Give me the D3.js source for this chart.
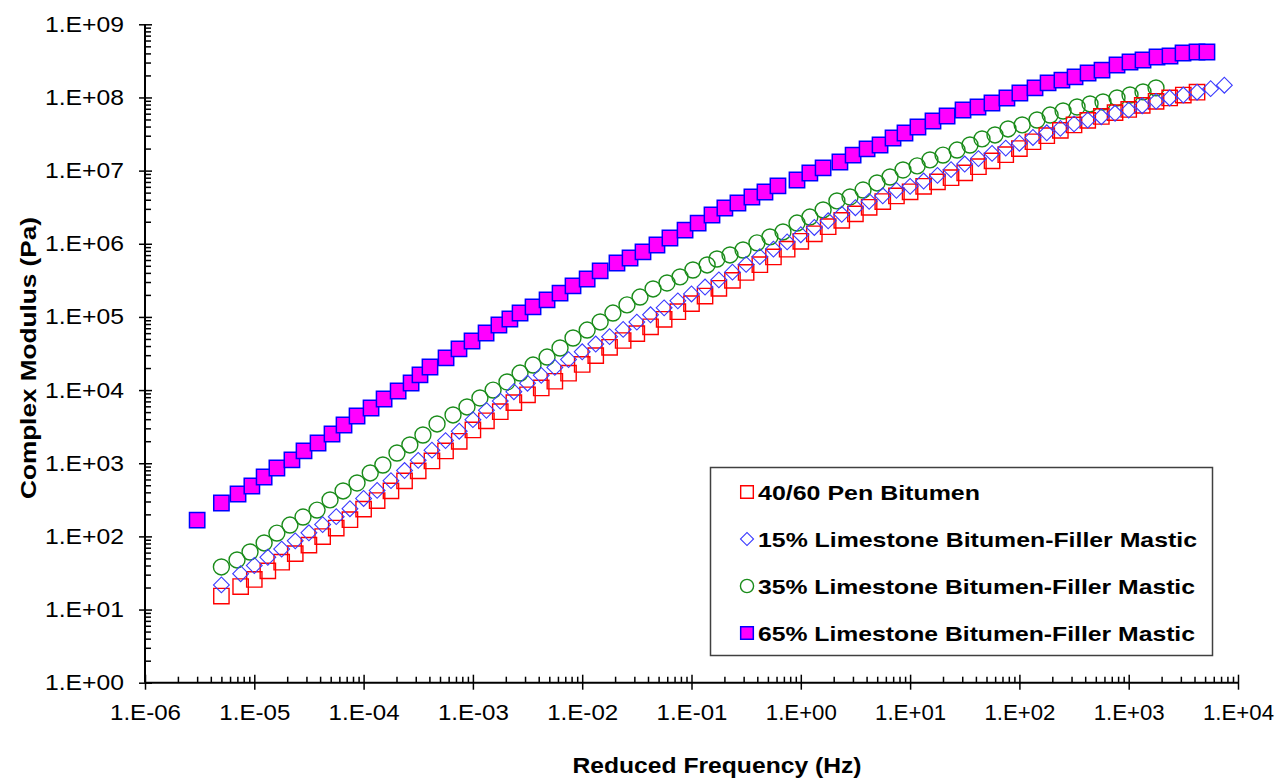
<!DOCTYPE html>
<html>
<head>
<meta charset="utf-8">
<script src="https://cdn.jsdelivr.net/npm/d3@7"></script>
<style>
  body { margin: 0; background: #fff; }
  svg text { font-family: "Liberation Sans", Arial, sans-serif; fill: #000; }
</style>
</head>
<body>
<div id="chart"></div>
<script>
// ---- data: reduced frequency (Hz) and complex modulus (Pa)
var penFreq = [5.0e-6, 7.50e-6, 1.00e-5, 1.33e-5, 1.78e-5, 2.37e-5, 3.16e-5, 4.22e-5, 5.62e-5, 7.50e-5,
  1.00e-4, 1.33e-4, 1.78e-4, 2.37e-4, 3.16e-4, 4.22e-4, 5.62e-4, 7.50e-4,
  1.00e-3, 1.33e-3, 1.78e-3, 2.37e-3, 3.16e-3, 4.22e-3, 5.62e-3, 7.50e-3,
  1.00e-2, 1.33e-2, 1.78e-2, 2.37e-2, 3.16e-2, 4.22e-2, 5.62e-2, 7.50e-2,
  0.100, 0.133, 0.178, 0.237, 0.316, 0.422, 0.562, 0.750,
  1.00, 1.33, 1.78, 2.37, 3.16, 4.22, 5.62, 7.50,
  10.0, 13.3, 17.8, 23.7, 31.6, 42.2, 56.2, 75.0,
  100, 133, 178, 237, 316, 422, 562, 750,
  1000, 1330, 1780, 2370, 3160, 4220];
var penModulus = [15.3, 20.6, 25.8, 33.8, 44.4, 58.1, 76.0, 99.5, 130, 169,
  236, 309, 419, 574, 786, 1075, 1473, 1992,
  2849, 3800, 5067, 6740, 8624, 1.07e4, 1.32e4, 1.70e4,
  2.24e4, 2.96e4, 3.84e4, 4.76e4, 5.91e4, 7.33e4, 9.28e4, 1.18e5,
  1.52e5, 1.93e5, 2.46e5, 3.16e5, 4.05e5, 5.18e5, 6.61e5, 8.43e5,
  1.08e6, 1.37e6, 1.71e6, 2.09e6, 2.56e6, 3.15e6, 3.78e6, 4.50e6,
  5.13e6, 6.11e6, 7.02e6, 8.01e6, 9.32e6, 1.13e7, 1.36e7, 1.65e7,
  2.00e7, 2.48e7, 3.00e7, 3.55e7, 4.21e7, 4.86e7, 5.50e7, 6.21e7,
  6.85e7, 7.80e7, 8.87e7, 9.84e7, 1.08e8, 1.18e8];

var ls15Freq = [5.0e-6, 7.50e-6, 1.00e-5, 1.33e-5, 1.78e-5, 2.37e-5, 3.16e-5, 4.22e-5, 5.62e-5, 7.50e-5,
  1.00e-4, 1.33e-4, 1.78e-4, 2.37e-4, 3.16e-4, 4.22e-4, 5.62e-4, 7.50e-4,
  1.00e-3, 1.33e-3, 1.78e-3, 2.37e-3, 3.16e-3, 4.22e-3, 5.62e-3, 7.50e-3,
  1.00e-2, 1.33e-2, 1.78e-2, 2.37e-2, 3.16e-2, 4.22e-2, 5.62e-2, 7.50e-2,
  0.100, 0.133, 0.178, 0.237, 0.316, 0.422, 0.562, 0.750,
  1.00, 1.33, 1.78, 2.37, 3.16, 4.22, 5.62, 7.50,
  10.0, 13.3, 17.8, 23.7, 31.6, 42.2, 56.2, 75.0,
  100, 133, 178, 237, 316, 422, 562, 750,
  1000, 1330, 1780, 2370, 3160, 4220, 5620, 7500];
var ls15Modulus = [21.7, 30.9, 40.0, 51.8, 67.1, 86.9, 112, 145, 186, 239,
  330, 425, 578, 795, 1095, 1508, 2038, 2738,
  3942, 5281, 7075, 9499, 1.24e4, 1.59e4, 2.04e4, 2.61e4,
  3.34e4, 4.26e4, 5.37e4, 6.75e4, 8.49e4, 1.07e5, 1.33e5, 1.66e5,
  2.06e5, 2.56e5, 3.21e5, 4.09e5, 5.22e5, 6.66e5, 8.45e5, 1.06e6,
  1.33e6, 1.67e6, 2.06e6, 2.53e6, 3.11e6, 3.80e6, 4.53e6, 5.37e6,
  6.10e6, 7.20e6, 8.60e6, 1.03e7, 1.23e7, 1.46e7, 1.72e7, 2.03e7,
  2.37e7, 2.84e7, 3.29e7, 3.78e7, 4.35e7, 4.90e7, 5.45e7, 6.08e7,
  6.70e7, 7.71e7, 8.85e7, 9.84e7, 1.08e8, 1.18e8, 1.32e8, 1.47e8];

var ls35Freq = [5.0e-6, 6.95e-6, 9.14e-6, 1.23e-5, 1.61e-5, 2.12e-5, 2.79e-5, 3.75e-5, 4.93e-5, 6.49e-5, 8.71e-5,
  1.15e-4, 1.50e-4, 2.02e-4, 2.65e-4, 3.49e-4, 4.70e-4, 6.58e-4, 8.83e-4,
  1.16e-3, 1.53e-3, 2.05e-3, 2.70e-3, 3.55e-3, 4.77e-3, 6.27e-3, 8.24e-3,
  1.11e-2, 1.46e-2, 1.91e-2, 2.57e-2, 3.38e-2, 4.45e-2, 5.97e-2, 7.85e-2,
  0.103, 0.139, 0.171, 0.225, 0.296, 0.397, 0.522, 0.687, 0.923,
  1.21, 1.60, 2.14, 2.82, 3.71, 4.98, 6.55, 8.61,
  11.6, 15.2, 20.0, 26.9, 35.3, 45.5, 59.8, 78.7,
  106, 145, 191, 251, 337, 443, 582, 782,
  1028, 1352, 1778];
var ls35Modulus = [38.2, 47.6, 61.2, 81.3, 111, 143, 184, 229, 315, 418, 537,
  736, 946, 1380, 1778, 2432, 3443, 4571, 5875,
  7798, 1.00e4, 1.29e4, 1.71e4, 2.20e4, 2.83e4, 3.76e4, 5.15e4,
  6.62e4, 8.53e4, 1.13e5, 1.46e5, 1.87e5, 2.41e5, 2.91e5, 3.52e5,
  4.38e5, 5.13e5, 6.19e5, 7.03e5, 8.22e5, 1.03e6, 1.24e6, 1.45e6, 1.92e6,
  2.32e6, 2.90e6, 3.85e6, 4.36e6, 5.43e6, 6.78e6, 8.18e6, 1.02e7,
  1.16e7, 1.40e7, 1.63e7, 1.91e7, 2.24e7, 2.71e7, 3.07e7, 3.71e7,
  4.21e7, 4.92e7, 5.75e7, 6.53e7, 7.41e7, 8.15e7, 8.67e7, 9.84e7,
  1.08e8, 1.19e8, 1.35e8];

var ls65Freq = [3.0e-6, 5.0e-6, 7.1e-6, 9.5e-6, 1.23e-5, 1.61e-5, 2.21e-5, 2.85e-5, 3.83e-5, 5.14e-5, 6.62e-5, 8.71e-5,
  1.17e-4, 1.54e-4, 2.07e-4, 2.72e-4, 3.28e-4, 4.05e-4, 5.68e-4, 7.46e-4, 9.82e-4,
  1.32e-3, 1.73e-3, 2.18e-3, 2.70e-3, 3.55e-3, 4.77e-3, 6.27e-3, 8.24e-3,
  1.11e-2, 1.46e-2, 2.08e-2, 2.74e-2, 3.60e-2, 4.83e-2, 6.35e-2, 8.73e-2,
  0.115, 0.154, 0.202, 0.266, 0.357, 0.470, 0.618, 0.923,
  1.21, 1.60, 2.28, 3.01, 4.04, 5.31, 6.98, 8.98,
  11.8, 16.2, 21.8, 30.5, 41.8, 56.1, 76.9,
  101, 139, 183, 245, 323, 425, 570, 782,
  1028, 1352, 1816, 2388, 3141, 4217, 5200];
var ls65Modulus = [167, 286, 380, 489, 649, 861, 1109, 1472, 1892, 2512, 3334, 4426,
  5690, 7551, 9720, 1.25e4, 1.61e4, 2.07e4, 2.75e4, 3.65e4, 4.69e4,
  6.03e4, 7.76e4, 9.37e4, 1.13e5, 1.37e5, 1.71e5, 2.12e5, 2.65e5,
  3.30e5, 4.25e5, 5.46e5, 6.39e5, 7.73e5, 9.62e5, 1.20e6, 1.54e6,
  1.92e6, 2.47e6, 3.08e6, 3.61e6, 4.36e6, 5.10e6, 6.17e6, 7.44e6,
  9.27e6, 1.09e7, 1.31e7, 1.63e7, 1.98e7, 2.24e7, 2.79e7, 3.27e7,
  3.95e7, 4.77e7, 5.58e7, 6.74e7, 7.41e7, 8.40e7, 9.84e7,
  1.15e8, 1.35e8, 1.58e8, 1.73e8, 1.91e8, 2.16e8, 2.37e8, 2.78e8,
  3.05e8, 3.25e8, 3.57e8, 3.69e8, 4.05e8, 4.18e8, 4.18e8];

var seriesNames = ["40/60 Pen Bitumen",
  "15% Limestone Bitumen-Filler Mastic",
  "35% Limestone Bitumen-Filler Mastic",
  "65% Limestone Bitumen-Filler Mastic"];

var xDecades = [1e-6, 1e-5, 1e-4, 1e-3, 1e-2, 1e-1, 1e0, 1e1, 1e2, 1e3, 1e4];
var yDecades = [1e0, 1e1, 1e2, 1e3, 1e4, 1e5, 1e6, 1e7, 1e8, 1e9];

// ---- layout
var width = 1285;
var height = 778;
var plotLeft = 145, plotRight = 1238, plotTop = 24.3, plotBottom = 682.7;

var svg = d3.select("#chart").append("svg")
  .attr("width", width)
  .attr("height", height);

var xScale = d3.scaleLog().domain([1e-6, 1e4]).range([plotLeft, plotRight]);
var yScale = d3.scaleLog().domain([1, 1e9]).range([plotBottom, plotTop]);

function sciLabel(v) {
  var e = Math.round(Math.log10(v));
  return "1.E" + (e < 0 ? "-" : "+") + String(Math.abs(e)).padStart(2, "0");
}

function minorTicks(decades) {
  var out = [];
  decades.slice(0, -1).forEach(function(d) {
    for (var k = 2; k <= 9; k++) out.push(k * d);
  });
  return out;
}

// ---- series (drawn so overlaps look like the original)
var series = [
  { name: seriesNames[2], freq: ls35Freq, mod: ls35Modulus, shape: "circle", stroke: "#1a8c1a", fill: "none", sw: 1.4 },
  { name: seriesNames[0], freq: penFreq, mod: penModulus, shape: "square", stroke: "#ff0000", fill: "none", sw: 1.4 },
  { name: seriesNames[1], freq: ls15Freq, mod: ls15Modulus, shape: "diamond", stroke: "#3a3aff", fill: "none", sw: 1.1 },
  { name: seriesNames[3], freq: ls65Freq, mod: ls65Modulus, shape: "filled", stroke: "#0000ff", fill: "#ff00ff", sw: 1.5 }
];

function symbolPath(shape, scale) {
  scale = scale || 1;
  if (shape === "circle") return d3.symbol().type(d3.symbolCircle).size(200 * scale)();
  if (shape === "diamond") return d3.symbol().type(d3.symbolSquare).size(125 * scale)();
  return d3.symbol().type(d3.symbolSquare).size(235 * scale)();
}

series.forEach(function(s) {
  var pts = d3.zip(s.freq, s.mod);
  svg.append("g")
    .attr("class", "series")
    .selectAll("path")
    .data(pts)
    .enter()
    .append("path")
    .attr("d", symbolPath(s.shape))
    .attr("transform", function(d) {
      return "translate(" + xScale(d[0]) + "," + yScale(d[1]) + ")" + (s.shape === "diamond" ? " rotate(45)" : "");
    })
    .attr("fill", s.fill)
    .attr("stroke", s.stroke)
    .attr("stroke-width", s.sw);
});

// ---- axes
var xMinor = svg.append("g")
  .attr("transform", "translate(0," + plotBottom + ")")
  .call(d3.axisBottom(xScale).tickValues(minorTicks(xDecades)).tickSize(-6).tickFormat(""));
var xMajor = svg.append("g")
  .attr("transform", "translate(0," + plotBottom + ")")
  .call(d3.axisBottom(xScale).tickValues(xDecades).tickSize(7).tickPadding(15).tickFormat(sciLabel));
xMajor.selectAll(".tick line").attr("y1", -8);

var yMinor = svg.append("g")
  .attr("transform", "translate(" + plotLeft + ",0)")
  .call(d3.axisLeft(yScale).tickValues(minorTicks(yDecades)).tickSize(-6).tickFormat(""));
var yMajor = svg.append("g")
  .attr("transform", "translate(" + plotLeft + ",0)")
  .call(d3.axisLeft(yScale).tickValues(yDecades).tickSize(6).tickPadding(15).tickFormat(sciLabel));
yMajor.selectAll(".tick line").attr("x1", 7);

svg.selectAll(".domain").attr("stroke", "#000").attr("stroke-width", 2);
svg.selectAll(".tick line").attr("stroke", "#000").attr("stroke-width", 1.5);
xMinor.select(".domain").remove();
yMinor.select(".domain").remove();
xMajor.select(".domain").attr("d", "M" + plotLeft + ",0H" + plotRight);
yMajor.select(".domain").attr("d", "M0," + plotTop + "V" + plotBottom);

xMajor.selectAll(".tick text")
  .attr("font-size", "22px")
  .attr("font-family", "Liberation Sans, Arial, sans-serif")
  .attr("fill", "#000")
  .attr("dy", "0.71em")
  .attr("textLength", 71)
  .attr("lengthAdjust", "spacingAndGlyphs");
yMajor.selectAll(".tick text")
  .attr("font-size", "22px")
  .attr("font-family", "Liberation Sans, Arial, sans-serif")
  .attr("fill", "#000")
  .attr("textLength", 79)
  .attr("lengthAdjust", "spacingAndGlyphs");

// ---- axis titles
svg.append("text")
  .attr("x", 717)
  .attr("y", 765)
  .attr("text-anchor", "middle")
  .attr("dominant-baseline", "central")
  .attr("font-size", "22px")
  .attr("font-weight", "bold")
  .attr("textLength", 289)
  .attr("lengthAdjust", "spacingAndGlyphs")
  .text("Reduced Frequency (Hz)");

svg.append("text")
  .attr("transform", "translate(28,358) rotate(-90)")
  .attr("text-anchor", "middle")
  .attr("dominant-baseline", "central")
  .attr("font-size", "22px")
  .attr("font-weight", "bold")
  .attr("textLength", 282)
  .attr("lengthAdjust", "spacingAndGlyphs")
  .text("Complex Modulus (Pa)");

// ---- legend
var legend = svg.append("g").attr("class", "legend");
legend.append("rect")
  .attr("x", 710.5)
  .attr("y", 467.5)
  .attr("width", 502)
  .attr("height", 188)
  .attr("fill", "#fff")
  .attr("stroke", "#404040")
  .attr("stroke-width", 1.5);

var legendOrder = [series[1], series[2], series[0], series[3]];
var legendWidths = [222, 439, 437, 437];
legendOrder.forEach(function(s, i) {
  var cy = 492 + i * 47;
  legend.append("path")
    .attr("d", symbolPath(s.shape, 0.68))
    .attr("transform", "translate(747," + cy + ")" + (s.shape === "diamond" ? " rotate(45)" : ""))
    .attr("fill", s.fill)
    .attr("stroke", s.stroke)
    .attr("stroke-width", s.sw);
  legend.append("text")
    .attr("x", 758)
    .attr("y", cy)
    .attr("dominant-baseline", "central")
    .attr("font-size", "21px")
    .attr("font-weight", "bold")
    .attr("textLength", legendWidths[i])
    .attr("lengthAdjust", "spacingAndGlyphs")
    .text(s.name);
});
</script>
</body>
</html>
